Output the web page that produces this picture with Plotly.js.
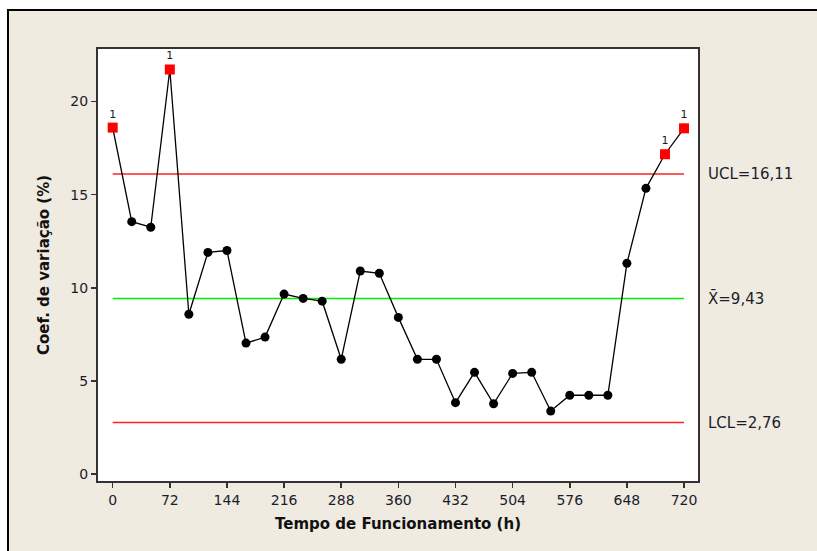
<!DOCTYPE html>
<html>
<head>
<meta charset="utf-8">
<script src="https://cdn.plot.ly/plotly-3.0.1.min.js"></script>
<style>
  html, body { margin: 0; padding: 0; background: #ffffff; }
  #wrap { position: relative; width: 817px; height: 551px; overflow: hidden; background: #ffffff; }
  #chart { position: absolute; left: 7px; top: 9px; width: 810px; height: 542px;
           border-top: 2px solid #000; border-left: 2px solid #000; box-sizing: border-box; }
</style>
</head>
<body>
<div id="wrap"><div id="chart"></div></div>
<script>
// Data
const hours = [0, 24, 48, 72, 96, 120, 144, 168, 192, 216, 240, 264, 288, 312, 336, 360,
               384, 408, 432, 456, 480, 504, 528, 552, 576, 600, 624, 648, 672, 696, 720];
const cvValues = [18.6, 13.55, 13.25, 21.72, 8.58, 11.9, 12.0, 7.03, 7.35, 9.66, 9.43, 9.28,
                  6.16, 10.9, 10.78, 8.41, 6.16, 6.16, 3.83, 5.46, 3.77, 5.4, 5.46, 3.38,
                  4.23, 4.23, 4.23, 11.31, 15.34, 17.17, 18.56];
const UCL = 16.11;
const CENTER = 9.43;
const LCL = 2.76;
const xTicks = [0, 72, 144, 216, 288, 360, 432, 504, 576, 648, 720];
const yTicks = [0, 5, 10, 15, 20];
const limitLabels = ['UCL=16,11', 'X\u0304=9,43', 'LCL=2,76'];

// Out-of-control points (above UCL or below LCL)
const oocX = [], oocY = [], oocText = [];
hours.forEach((h, i) => {
  if (cvValues[i] > UCL || cvValues[i] < LCL) { oocX.push(h); oocY.push(cvValues[i]); oocText.push('1'); }
});

const xEnds = [hours[0], hours[hours.length - 1]];
const traces = [
  { x: xEnds, y: [UCL, UCL], mode: 'lines', line: { color: '#ff2020', width: 1.5 }, hoverinfo: 'skip' },
  { x: xEnds, y: [CENTER, CENTER], mode: 'lines', line: { color: '#00ee00', width: 1.5 }, hoverinfo: 'skip' },
  { x: xEnds, y: [LCL, LCL], mode: 'lines', line: { color: '#ff2020', width: 1.5 }, hoverinfo: 'skip' },
  { x: hours, y: cvValues, mode: 'lines+markers',
    line: { color: '#000000', width: 1.3 },
    marker: { color: '#000000', size: 9, symbol: 'circle' } },
  { x: oocX, y: oocY, mode: 'markers+text', text: oocText, textposition: 'top center',
    textfont: { family: 'DejaVu Sans', size: 11, color: '#1a1a1a' },
    marker: { color: '#ff0000', size: 10, symbol: 'square' } }
];

const tickFont = { family: 'DejaVu Sans', size: 14, color: '#1c1c2c' };
const layout = {
  width: 808, height: 540,
  margin: { l: 88.5, r: 119, t: 37.5, b: 70 },
  paper_bgcolor: '#efebe1',
  plot_bgcolor: '#ffffff',
  showlegend: false,
  xaxis: {
    range: [-18.5, 737.6], tickvals: xTicks, ticktext: xTicks.map(String),
    showgrid: false, zeroline: false,
    showline: true, mirror: true, linecolor: '#333333', linewidth: 2,
    ticks: 'outside', ticklen: 5, tickwidth: 1.5, tickcolor: '#333333',
    tickfont: tickFont,
    title: { text: 'Tempo de Funcionamento (h)', standoff: 12,
             font: { family: 'DejaVu Sans', size: 15, color: '#111111', weight: 'bold' } }
  },
  yaxis: {
    range: [-0.375, 22.82], tickvals: yTicks, ticktext: yTicks.map(String),
    showgrid: false, zeroline: false,
    showline: true, mirror: true, linecolor: '#333333', linewidth: 2,
    ticks: 'outside', ticklen: 5, tickwidth: 1.5, tickcolor: '#333333',
    tickfont: tickFont,
    title: { text: 'Coef. de variação (%)', standoff: 17,
             font: { family: 'DejaVu Sans', size: 15, color: '#111111', weight: 'bold' } }
  },
  annotations: [UCL, CENTER, LCL].map((v, i) => ({
    x: 1, xref: 'paper', y: v, yref: 'y', xanchor: 'left', yanchor: 'middle',
    xshift: 8, text: limitLabels[i], showarrow: false,
    font: { family: 'DejaVu Sans', size: 15, color: '#1c1c2c' }
  }))
};

Plotly.newPlot('chart', traces, layout, { displayModeBar: false, staticPlot: true });
</script>
</body>
</html>
